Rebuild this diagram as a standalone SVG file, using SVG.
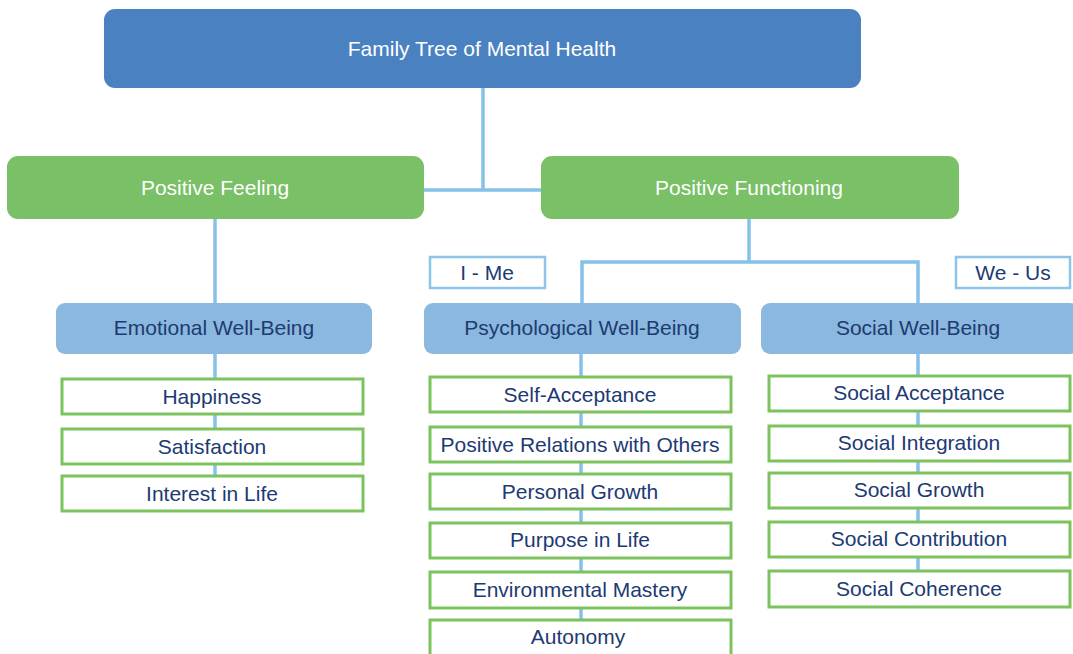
<svg xmlns="http://www.w3.org/2000/svg" width="1073" height="654" viewBox="0 0 1073 654">
<style>
text{font-family:"Liberation Sans",Arial,sans-serif;font-size:21px;text-anchor:middle}
.w{fill:#ffffff}
.n{fill:#1d3a73}
.top{fill:#4a82c1}
.grn{fill:#79c066}
.mid{fill:#8ab8de}
.leaf{fill:#ffffff;stroke:#7cc35e;stroke-width:3}
.tag{fill:#ffffff;stroke:#8cc4ea;stroke-width:2.5}
.con{fill:none;stroke:#85c1e8;stroke-width:3.5}
</style>
<rect width="1073" height="654" fill="#ffffff"/>
<g id="connectors">
<path class="con" d="M483 88V190M424 190H541"/>
<path class="con" d="M215 219V303"/>
<path class="con" d="M749 219V262M582 303V262H918V303"/>
<path class="con" d="M215 354V476"/>
<path class="con" d="M581 354V640"/>
<path class="con" d="M918 354V575"/>
</g>
<g id="root"><rect class="top" x="104" y="9" width="757" height="79" rx="11"/><text class="w" x="482" y="56">Family Tree of Mental Health</text></g>
<g id="positive-feeling"><rect class="grn" x="7" y="156" width="417" height="63" rx="11"/><text class="w" x="215" y="195">Positive Feeling</text></g>
<g id="positive-functioning"><rect class="grn" x="541" y="156" width="418" height="63" rx="11"/><text class="w" x="749" y="195">Positive Functioning</text></g>
<g id="i-me"><rect class="tag" x="430" y="257" width="115" height="31"/><text class="n" x="487" y="280">I - Me</text></g>
<g id="we-us"><rect class="tag" x="956" y="257" width="114" height="31"/><text class="n" x="1013" y="280">We - Us</text></g>
<g id="emotional"><rect class="mid" x="56" y="303" width="316" height="51" rx="9"/><text class="n" x="214" y="335">Emotional Well-Being</text></g>
<g id="psychological"><rect class="mid" x="424" y="303" width="317" height="51" rx="9"/><text class="n" x="582" y="335">Psychological Well-Being</text></g>
<g id="social"><rect class="mid" x="761" y="303" width="318" height="51" rx="9"/><text class="n" x="918" y="335">Social Well-Being</text></g>
<g id="happiness"><rect class="leaf" x="62" y="379" width="301" height="35"/><text class="n" x="212" y="404">Happiness</text></g>
<g id="satisfaction"><rect class="leaf" x="62" y="429" width="301" height="35"/><text class="n" x="212" y="454">Satisfaction</text></g>
<g id="interest"><rect class="leaf" x="62" y="476" width="301" height="35"/><text class="n" x="212" y="501">Interest in Life</text></g>
<g id="self-acceptance"><rect class="leaf" x="430" y="377" width="301" height="35"/><text class="n" x="580" y="402">Self-Acceptance</text></g>
<g id="positive-relations"><rect class="leaf" x="430" y="427" width="301" height="35"/><text class="n" x="580" y="452">Positive Relations with Others</text></g>
<g id="personal-growth"><rect class="leaf" x="430" y="474" width="301" height="35"/><text class="n" x="580" y="499">Personal Growth</text></g>
<g id="purpose"><rect class="leaf" x="430" y="523" width="301" height="35"/><text class="n" x="580" y="547">Purpose in Life</text></g>
<g id="environmental"><rect class="leaf" x="430" y="572" width="301" height="36"/><text class="n" x="580" y="597">Environmental Mastery</text></g>
<g id="autonomy"><rect class="leaf" x="430" y="620" width="301" height="40"/><text class="n" x="578" y="644">Autonomy</text></g>
<g id="social-acceptance"><rect class="leaf" x="769" y="376" width="301" height="35"/><text class="n" x="919" y="400">Social Acceptance</text></g>
<g id="social-integration"><rect class="leaf" x="769" y="426" width="301" height="35"/><text class="n" x="919" y="450">Social Integration</text></g>
<g id="social-growth"><rect class="leaf" x="769" y="473" width="301" height="35"/><text class="n" x="919" y="497">Social Growth</text></g>
<g id="social-contribution"><rect class="leaf" x="769" y="522" width="301" height="35"/><text class="n" x="919" y="546">Social Contribution</text></g>
<g id="social-coherence"><rect class="leaf" x="769" y="571" width="301" height="36"/><text class="n" x="919" y="596">Social Coherence</text></g>
</svg>
